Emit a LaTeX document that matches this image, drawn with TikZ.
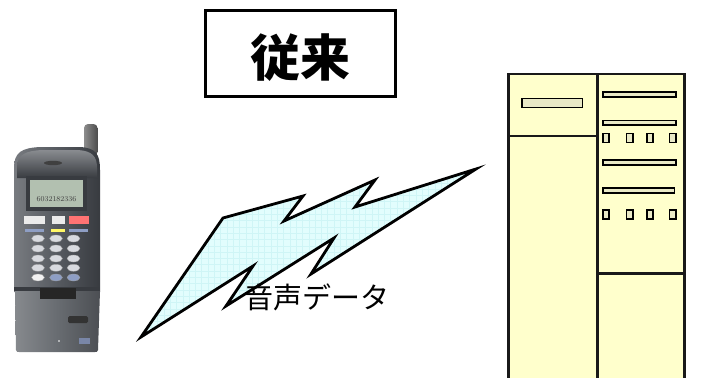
\documentclass[tikz,border=0pt]{standalone}
\usepackage{fontspec}
\newfontfamily\cjk{Noto Sans CJK JP}
\usetikzlibrary{shapes.geometric}

\definecolor{rackyellow}{HTML}{FFFFCC}
\definecolor{slotfill}{HTML}{E9E9C6}
\definecolor{boltfill}{HTML}{E2FDFD}
\definecolor{boltgrid}{HTML}{CFF5F6}
\definecolor{phonebody}{HTML}{565A60}
\definecolor{phonedark}{HTML}{383B40}
\definecolor{phoneflip}{HTML}{686C71}
\definecolor{lcd}{HTML}{B2C0B0}
\definecolor{keyface}{HTML}{D8DADF}
\definecolor{keyblue}{HTML}{8E9EC4}

\tikzset{
  titlebox/.style={draw=black, line width=3pt, fill=white},
  titletext/.style={font=\cjk\bfseries\fontsize{50}{50}\selectfont, inner sep=0pt},
  boltline/.style={draw=black, line width=2.8pt, line join=miter, miter limit=20},
  labeltext/.style={font=\cjk\fontsize{29}{29}\selectfont, inner sep=0pt},
  rack/.style={draw=black!90, line width=2.2pt, fill=rackyellow},
  rackline/.style={draw=black!90, line width=2.2pt},
  slot/.style={draw=black, line width=1.8pt, fill=slotfill},
  lamp/.style={draw=black, line width=1.8pt, fill=slotfill},
  key/.style={ellipse, fill=keyface, draw=black!40, line width=0.3pt,
              minimum width=13pt, minimum height=7pt, inner sep=0pt},
}

\begin{document}
\begin{tikzpicture}[x=1pt, y=-1pt]
\useasboundingbox (0,0) rectangle (716,378);
\clip (0,0) rectangle (716,378);
\fill[white] (0,0) rectangle (716,378);

% ---- heading ----
\draw[titlebox] (205.5,10.5) rectangle (395.5,96.5);
\node[titletext] (title) at (300.5,57.5) {従来};

% ---- radio link (lightning bolt) ----
\def\boltpath{(141,337) -- (223,218) -- (303,196) -- (284,221) -- (375,180)
  -- (355,207) -- (476,169) -- (311,274) -- (334,238) -- (226,306)
  -- (253,266) -- cycle}
\fill[boltfill] \boltpath;
\begin{scope}
  \clip \boltpath;
  \draw[boltgrid, line width=0.4pt, step=6.3pt] (130,160) grid (480,345);
\end{scope}
\draw[boltline] \boltpath;
\node[labeltext] (voice) at (316.5,297) {音声データ};

% ---- server rack ----
\draw[rack] (508.5,74) rectangle (597.5,392);
\draw[rack] (597.5,74) rectangle (684.5,392);
\draw[rackline] (508.5,136) -- (597.5,136);
\draw[rackline] (597.5,273.5) -- (684.5,273.5);
\draw[slot] (522,98.5) rectangle (582.5,107.5);
\foreach \y in {92,120.5,160}
  \draw[slot] (603,\y) rectangle (676,\y+4.8);
\draw[slot] (603,188.3) rectangle (674.5,193.1);
\foreach \y in {133.5,210.2}
  \foreach \x in {603,626.5,647,669.5}
    \draw[lamp] (\x,\y) rectangle (\x+6.3,\y+9);

% ---- mobile phone ----
% antenna
\path[left color=black!45, right color=black!70, rounded corners=4pt]
  (84,124) rectangle (97.5,156);
% upper housing
\path[left color=phonebody!80!white, right color=phonedark, middle color=phonebody]
  (14,292) -- (14,168) .. controls (14,152) and (22,148) .. (40,147)
  -- (80,147) .. controls (96,148) and (100,154) .. (100,170) -- (100,292) -- cycle;
% earpiece cap
\path[top color=phonebody!70!white, bottom color=phonedark]
  (17,178) -- (17,166) .. controls (18,154) and (26,151) .. (42,150)
  -- (78,150) .. controls (92,151) and (97,156) .. (97,168) -- (97,178) -- cycle;
\fill[black!75] (53,163) ellipse (9pt and 2.2pt);
% display
\fill[phonedark] (26,176) rectangle (87,211);
\fill[lcd] (30,180) rectangle (83,207);
\node[font=\fontsize{7.5}{7.5}\selectfont, inner sep=0pt, text=black!75]
  (digits) at (56.5,199) {6032182336};
% function keys
\fill[white!92!black] (24,216) rectangle (45,223.5);
\fill[white!92!black] (52,216) rectangle (65,223.5);
\fill[red!55!white] (69,216) rectangle (89,223.5);
\fill[keyblue] (25,228.5) rectangle (44,232);
\fill[yellow!60!white] (51,228.5) rectangle (65,232);
\fill[keyblue] (69,228.5) rectangle (88,232);
% keypad
\foreach \row/\y in {1/238.5,2/248.5,3/258.5,4/267.8}
  \foreach \col/\x in {1/38,2/56,3/73.5}
    \node[key] (k\row\col) at (\x,\y) {};
\node[key, fill=white!95!black] (k51) at (38,277.5) {};
\node[key, fill=keyblue] (k52) at (56,277.5) {};
\node[key, fill=keyblue] (k53) at (73.5,277.5) {};
% hinge and flip
\fill[phonedark] (14,287) rectangle (100,291);
\path[left color=phoneflip!80!white, right color=phonedark!90!white, middle color=phoneflip]
  (15,291) -- (100,291) -- (98,350) .. controls (97,352) .. (95,352)
  -- (19,352) .. controls (17,352) .. (16,350) -- cycle;
\fill[black!85] (40,288) rectangle (76,299);
\fill[black!80, rounded corners=1.5pt] (68,316) rectangle (88,323);
\fill[keyblue!85!black] (79,338) rectangle (90,344);
\fill[white] (59,341) circle (0.9pt);
\end{tikzpicture}
\end{document}
